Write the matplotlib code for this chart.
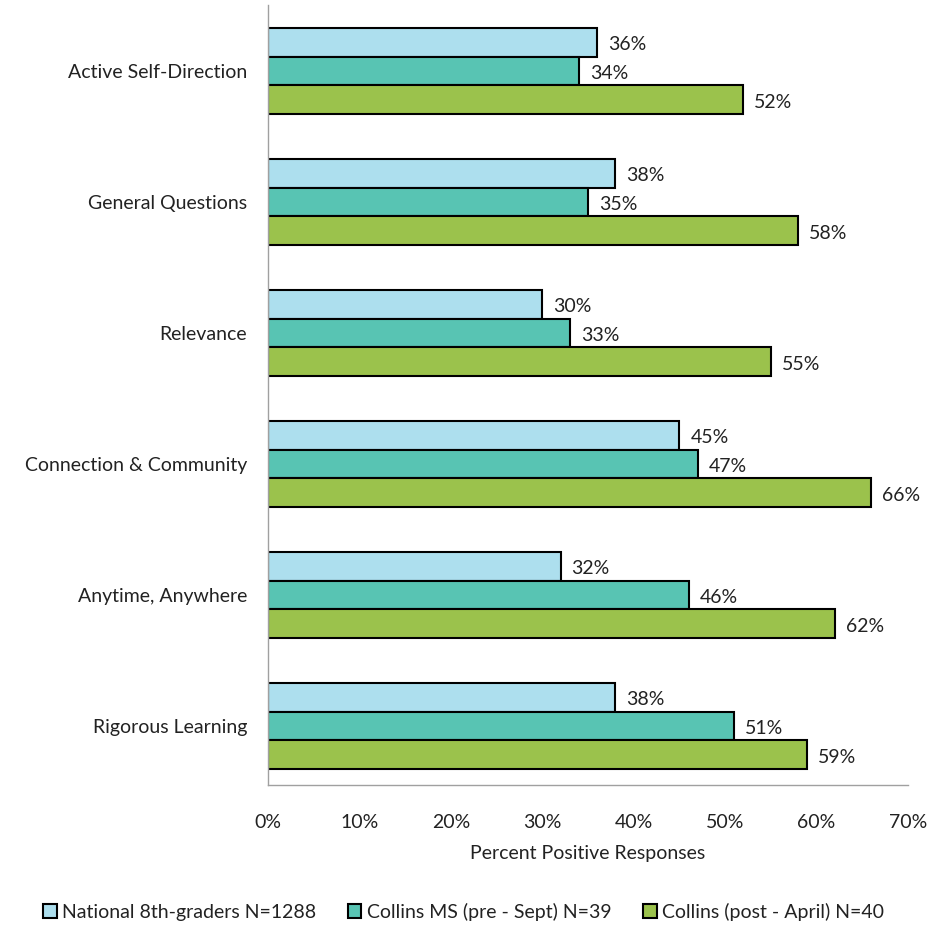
import matplotlib
matplotlib.use("Agg")
import matplotlib.pyplot as plt
import numpy as np
from matplotlib.ticker import FuncFormatter

plt.rcParams['font.family'] = ['Lato', 'DejaVu Sans']

categories = ["Active Self-Direction", "General Questions", "Relevance",
              "Connection & Community", "Anytime, Anywhere", "Rigorous Learning"]
series_names = ["National 8th-graders N=1288", "Collins MS (pre - Sept) N=39",
                "Collins (post - April) N=40"]
national = [36, 38, 30, 45, 32, 38]
collins_pre = [34, 35, 33, 47, 46, 51]
collins_post = [52, 58, 55, 66, 62, 59]
colors = ["#ADDFEE", "#58C4B3", "#9BC24C"]
xticks = [0, 10, 20, 30, 40, 50, 60, 70]

FS = 14

fig = plt.figure(figsize=(9.33, 9.25), dpi=100)
ax = fig.add_axes([0.2873, 0.1514, 0.6859, 0.8432])

h = 0.221
y = np.arange(len(categories))
offsets = [-h, 0, h]
handles = []
for vals, col, off, name in zip([national, collins_pre, collins_post], colors, offsets, series_names):
    bars = ax.barh(y + off, vals, height=h, color=col, edgecolor='black', linewidth=1.5, label=name)
    handles.append(bars)
    for b, v in zip(bars, vals):
        ax.text(b.get_width() + 1.2, b.get_y() + b.get_height() / 2 + 0.02, f"{v}%",
                va='center', ha='left', fontsize=FS, color='#222222')

ax.set_ylim(5.45, -0.504)
ax.set_xlim(0, 70)
ax.set_yticks(y)
ax.set_yticklabels(categories, fontsize=FS, color='#222222')
ax.set_xticks(xticks)
ax.xaxis.set_major_formatter(FuncFormatter(lambda v, p: f"{int(v)}%"))
ax.tick_params(axis='x', labelsize=FS, colors='#222222', length=0, pad=21)
ax.tick_params(axis='y', length=0, pad=15)
for s in ['top', 'right']:
    ax.spines[s].set_visible(False)
for s in ['left', 'bottom']:
    ax.spines[s].set_color('#A0A0A0')
    ax.spines[s].set_linewidth(1)
ax.set_xlabel("Percent Positive Responses", fontsize=FS, color='#222222', labelpad=10)

leg = fig.legend(handles=handles, labels=series_names, loc='center', bbox_to_anchor=(0.497, 0.014),
                 ncol=3, frameon=False, fontsize=FS, handlelength=0.7, handleheight=0.7,
                 handletextpad=0.3, columnspacing=1.6)
for t in leg.get_texts():
    t.set_color('#222222')

fig.savefig("out.png", dpi=100)
